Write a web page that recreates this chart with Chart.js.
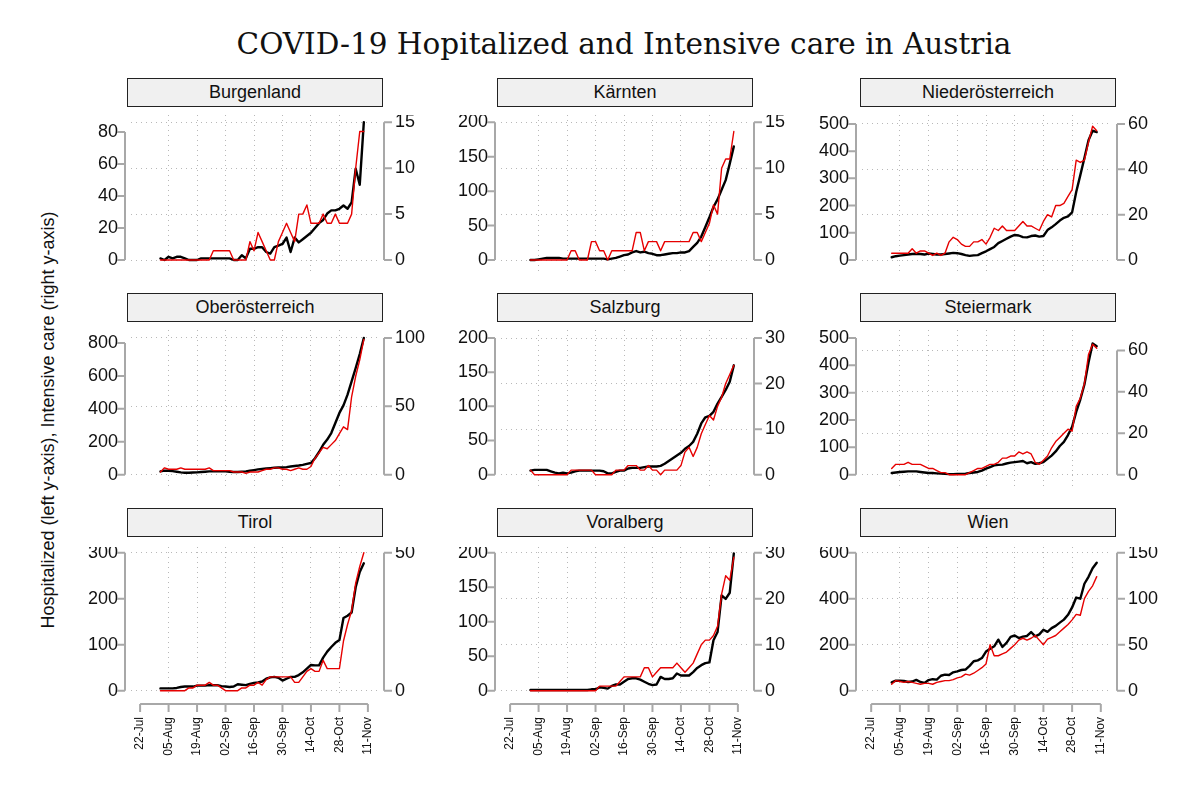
<!DOCTYPE html>
<html>
<head>
<meta charset="utf-8">
<title>COVID-19 Austria</title>
<script src="https://cdn.jsdelivr.net/npm/chart.js@4.4.1/dist/chart.umd.min.js"></script>
<style>
	body { margin: 0; background: #fff; }
	#page { position: relative; width: 1200px; height: 800px; overflow: hidden; font-family: "Liberation Sans", Arial, sans-serif; color: #111; }
	#title { position: absolute; left: 124px; width: 1000px; top: 30px; line-height: 29.5px; text-align: center; font-family: "DejaVu Serif", serif; font-size: 29.5px; white-space: nowrap; }
	#ylab { position: absolute; left: 48px; top: 420px; transform: translate(-50%, -50%) rotate(-90deg); font-size: 18px; white-space: nowrap; }
	.strip { position: absolute; box-sizing: border-box; width: 256px; height: 29px; border: 1px solid #222; background: #f0f0f0; text-align: center; font-size: 18px; line-height: 27px; }
	canvas { position: absolute; }
</style>
</head>
<body>
<div id="page">
	<div id="title">COVID-19 Hopitalized and Intensive care in Austria</div>
	<div id="ylab">Hospitalized (left y-axis), Intensive care (right y-axis)</div>
</div>
<script>
// days after 22-Jul
const days = [10,12,14,16,18,20,22,24,26,28,30,32,34,36,38,40,42,44,46,48,50,52,54,56,58,60,62,64,66,68,70,72,74,76,78,80,82,84,86,88,90,92,94,96,98,100,102,104,106,108,110];
const dateTicks = [0,14,28,42,56,70,84,98,112];
const dateLabels = ['22-Jul','05-Aug','19-Aug','02-Sep','16-Sep','30-Sep','14-Oct','28-Oct','11-Nov'];
const states = ['Burgenland','Kärnten','Niederösterreich','Oberösterreich','Salzburg','Steiermark','Tirol','Voralberg','Wien'];

const hospBurgenland = [1,0,2,1,2,2,1,0,0,0, 1,1,1,1,1,1,1,1,0,0, 3,1,7,7,8,8,5,4,8,9, 10,14,5,14,11,13,15,17,20,23, 25,29,31,31,32,34,32,36,57,47,86];
const icuBurgenland  = [0,0,0,0,0,0,0,0,0,0, 0,0,0,1,1,1,1,1,0,0, 0,0,2,1,3,2,1,0,0,2, 3,4,3,2,5,5,6,4,4,4, 5,4,4,5,4,4,4,5,10,14,14];
const hospKaernten = [0,0,1,2,3,3,3,3,2,2, 2,2,2,2,2,2,2,2,2,1, 2,3,5,7,8,11,13,11,12,10, 9,7,7,8,9,10,10,11,11,13, 19,25,34,48,62,77,88,102,116,140,165];
const icuKaernten  = [0,0,0,0,0,0,0,0,0,0, 1,1,0,0,0,2,2,1,1,0, 1,1,1,1,1,1,3,3,1,2, 2,2,1,2,2,2,2,2,2,2, 3,3,2,3,4,6,5,10,11,11,14];
const hospNoe = [10,14,16,18,20,22,23,22,20,24, 22,20,20,22,24,26,25,22,18,15, 17,18,25,32,40,48,62,70,78,86, 92,90,84,83,88,90,86,88,110,120, 132,145,155,160,175,250,312,375,440,475,470];
const icuNoe  = [3,3,3,3,3,5,3,4,4,3, 2,3,2,3,8,10,9,7,6,6, 8,8,9,7,10,14,13,15,13,13, 13,15,17,15,15,14,13,17,20,19, 24,24,25,28,31,44,43,44,52,59,57];
const hospOoe = [20,25,24,22,18,14,12,12,13,14, 16,18,20,20,20,21,20,18,16,16, 18,20,24,28,32,35,38,40,42,44, 44,46,50,53,56,60,66,71,100,138, 182,213,253,314,375,421,486,567,648,733,830];
const icuOoe  = [2,5,4,4,4,5,4,4,4,4, 4,4,5,3,3,3,3,3,2,2, 2,1,2,2,2,3,4,4,5,5, 4,4,3,4,5,4,4,6,12,16, 20,19,22,25,30,35,33,57,72,84,99];
const hospSalzburg = [6,7,7,7,7,5,3,2,3,2, 3,5,6,6,6,6,6,6,5,2, 2,4,6,6,9,10,10,10,11,12, 12,12,13,16,20,24,28,32,38,42, 48,60,75,84,86,92,104,114,124,136,160];
const icuSalzburg  = [1,0,0,0,0,0,0,0,0,0, 1,1,1,1,1,1,0,0,0,0, 0,1,1,1,2,2,2,1,1,2, 1,1,0,1,1,1,1,2,5,6, 4,6,9,11,13,12,15,17,20,22,24];
const hospSteiermark = [6,8,10,11,12,12,12,10,8,6, 6,5,4,3,2,2,3,3,4,6, 8,10,15,22,28,34,36,37,41,44, 46,48,50,42,46,40,42,46,58,70, 85,105,120,145,175,230,275,330,410,480,470];
const icuSteiermark  = [3,5,5,5,6,5,5,5,4,3, 3,2,1,1,0,0,0,0,0,1, 2,3,3,4,5,5,6,8,8,9, 9,11,10,11,10,6,5,7,9,13, 16,18,20,22,21,33,37,44,58,63,61];
const hospTirol = [5,5,5,5,6,8,9,9,9,11, 11,11,12,12,12,10,9,8,9,14, 13,12,15,17,18,20,26,29,30,28, 22,26,30,30,34,40,48,56,55,55, 72,85,95,104,110,158,163,170,225,258,277];
const icuTirol  = [0,0,0,0,0,0,0,1,1,2, 2,2,3,2,2,1,0,0,0,0, 1,1,2,2,3,2,4,5,5,5, 5,5,5,3,3,5,7,8,7,7, 11,8,8,8,8,18,24,29,39,45,50];
const hospVorarlberg = [1,1,1,1,1,1,1,1,1,1, 1,1,1,1,1,2,2,5,4,3, 7,9,9,13,17,18,18,16,13,10, 8,9,20,17,17,18,25,22,22,22, 27,33,37,40,41,73,85,138,133,142,199];
const icuVorarlberg  = [0,0,0,0,0,0,0,0,0,0, 0,0,0,0,0,0,0,1,1,1, 1,1,2,3,3,3,3,3,5,5, 3,4,5,5,5,5,6,5,4,5, 6,8,10,11,11,12,14,21,25,24,29];
const hospWien = [36,44,43,42,38,40,47,38,34,46, 50,48,65,70,68,80,84,90,92,108, 128,132,142,170,182,193,222,190,208,234, 240,229,235,238,255,236,245,265,256,272, 282,296,309,330,362,405,400,465,495,532,556];
const icuWien  = [7,11,10,9,10,9,8,7,8,8, 7,9,10,11,11,12,14,15,18,17, 19,22,25,29,50,38,38,40,42,46, 50,55,57,55,57,60,55,50,56,58, 60,64,68,72,77,83,82,100,108,114,124];

const hospitalized = [hospBurgenland, hospKaernten, hospNoe, hospOoe, hospSalzburg, hospSteiermark, hospTirol, hospVorarlberg, hospWien];
const icu = [icuBurgenland, icuKaernten, icuNoe, icuOoe, icuSalzburg, icuSteiermark, icuTirol, icuVorarlberg, icuWien];

const leftTicks = [[0,20,40,60,80],[0,50,100,150,200],[0,100,200,300,400,500],[0,200,400,600,800],[0,50,100,150,200],[0,100,200,300,400,500],[0,100,200,300],[0,50,100,150,200],[0,200,400,600]];
const rightTicks = [[0,5,10,15],[0,5,10,15],[0,20,40,60],[0,50,100],[0,10,20,30],[0,20,40,60],[0,50],[0,10,20,30],[0,50,100,150]];
const leftTop = [86,200,506,830,200,500,300,200,600];
const rightTop = [15,15,60.7,100,30,66,50,30,150];

// panel geometry (px)
const colLeft = [131, 501, 862];
const colWidth = [246, 246, 248];
const stripLeft = [127, 497, 860];
const stripTop = [78, 293, 508];
const rowTop = [115, 330, 547];
const rowBottom = [275, 489, 694];
const rowTopPx = [122.3, 338, 552.7];
const rowZeroPx = [260, 474.7, 690.7];

Chart.defaults.font.family = '"Liberation Sans", Arial, sans-serif';
Chart.defaults.color = '#111';

const axisGrey = '#a8a8a8';
const gridGrey = '#b8b8b8';

// R style detached axes: line only between first and last tick
const rAxes = {
	id: 'rAxes',
	afterDraw(chart, args, opts) {
		const ctx = chart.ctx;
		const area = chart.chartArea;
		ctx.save();
		ctx.strokeStyle = axisGrey;
		ctx.lineWidth = 2;
		['y', 'y1'].forEach(function (id) {
			const s = chart.scales[id];
			const vals = s.ticks.map(t => t.value);
			const x = id === 'y' ? area.left - 6 : area.right + 7;
			const dir = id === 'y' ? -1 : 1;
			ctx.beginPath();
			ctx.moveTo(x, s.getPixelForValue(vals[0]));
			ctx.lineTo(x, s.getPixelForValue(vals[vals.length - 1]));
			vals.forEach(function (v) {
				const y = s.getPixelForValue(v);
				ctx.moveTo(x, y);
				ctx.lineTo(x + dir * 8, y);
			});
			ctx.stroke();
		});
		if (opts.showX) {
			const s = chart.scales.x;
			const y = area.bottom + 10;
			ctx.beginPath();
			ctx.moveTo(s.getPixelForValue(dateTicks[0]), y);
			ctx.lineTo(s.getPixelForValue(dateTicks[dateTicks.length - 1]), y);
			dateTicks.forEach(function (v) {
				const x = s.getPixelForValue(v);
				ctx.moveTo(x, y);
				ctx.lineTo(x, y + 8);
			});
			ctx.stroke();
		}
		ctx.restore();
	}
};

const page = document.getElementById('page');

states.forEach(function (name, i) {
	const col = i % 3;
	const row = Math.floor(i / 3);
	const bottomRow = row === 2;

	const strip = document.createElement('div');
	strip.className = 'strip';
	strip.style.left = stripLeft[col] + 'px';
	strip.style.top = stripTop[row] + 'px';
	strip.textContent = name;
	page.appendChild(strip);

	const w = colWidth[col] + 100;
	const h = rowBottom[row] - rowTop[row] + (bottomRow ? 75 : 0);
	const cv = document.createElement('canvas');
	cv.width = w;
	cv.height = h;
	cv.style.left = (colLeft[col] - 50) + 'px';
	cv.style.top = rowTop[row] + 'px';
	cv.style.width = w + 'px';
	cv.style.height = h + 'px';
	page.appendChild(cv);

	const span = rowZeroPx[row] - rowTopPx[row];
	const lo = (rowBottom[row] - rowZeroPx[row]) / span;
	const hi = 1 + (rowTopPx[row] - rowTop[row]) / span;

	new Chart(cv, {
		type: 'line',
		data: {
			labels: days,
			datasets: [
				{
					label: 'Intensive care',
					data: icu[i],
					yAxisID: 'y1',
					borderColor: '#e60000',
					borderWidth: 1.4,
					order: 0
				},
				{
					label: 'Hospitalized',
					data: hospitalized[i],
					yAxisID: 'y',
					borderColor: '#000',
					borderWidth: 2.4,
					order: 1
				}
			]
		},
		options: {
			responsive: false,
			animation: false,
			layout: { padding: 0 },
			elements: {
				point: { radius: 0 },
				line: { tension: 0, borderJoinStyle: 'round', borderCapStyle: 'round' }
			},
			plugins: {
				legend: { display: false },
				tooltip: { enabled: false },
				rAxes: { showX: bottomRow }
			},
			scales: {
				x: {
					type: 'linear',
					min: -4.48,
					max: 116.48,
					afterBuildTicks: function (s) { s.ticks = dateTicks.map(v => ({ value: v })); },
					afterFit: function (s) { s.height = bottomRow ? 75 : 0; s.paddingLeft = 0; s.paddingRight = 0; },
					ticks: {
						display: bottomRow,
						autoSkip: false,
						minRotation: 90,
						maxRotation: 90,
						padding: 23,
						font: { size: 12 },
						callback: function (v, idx) { return dateLabels[idx]; }
					},
					grid: {
						drawTicks: false,
						lineWidth: 1,
						color: function (c) {
							if (c.tick && (c.tick.value === 0 || c.tick.value === 112)) return 'rgba(0,0,0,0)';
							return gridGrey;
						}
					},
					border: { display: false, dash: [1, 4] }
				},
				y: {
					position: 'left',
					min: -lo * leftTop[i],
					max: hi * leftTop[i],
					afterBuildTicks: function (s) { s.ticks = leftTicks[i].map(v => ({ value: v })); },
					afterFit: function (s) { s.width = 50; s.paddingTop = 0; s.paddingBottom = 0; },
					ticks: { padding: 13, font: { size: 18 } },
					grid: { display: false, drawTicks: false },
					border: { display: false }
				},
				y1: {
					position: 'right',
					min: -lo * rightTop[i],
					max: hi * rightTop[i],
					afterBuildTicks: function (s) { s.ticks = rightTicks[i].map(v => ({ value: v })); },
					afterFit: function (s) { s.width = 50; s.paddingTop = 0; s.paddingBottom = 0; },
					ticks: { padding: 18, font: { size: 18 } },
					grid: { drawTicks: false, lineWidth: 1, color: gridGrey },
					border: { display: false, dash: [1, 4] }
				}
			}
		},
		plugins: [rAxes]
	});
});
</script>
</body>
</html>
